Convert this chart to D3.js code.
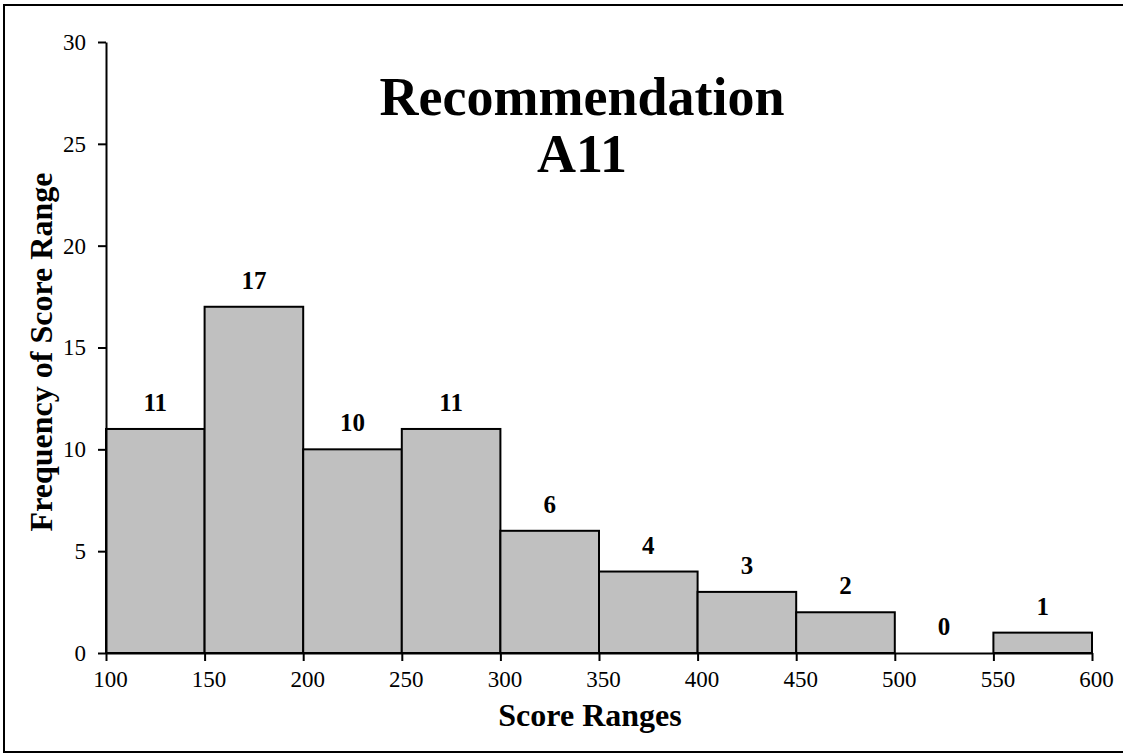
<!DOCTYPE html>
<html>
<head>
<meta charset="utf-8">
<script src="https://cdn.jsdelivr.net/npm/d3@7"></script>
<style>
  html, body { margin: 0; padding: 0; background: #fff; overflow: hidden; }
  svg { display: block; font-family: "Liberation Serif", "Times New Roman", serif; }
</style>
</head>
<body>
<svg id="chart" width="1123" height="753"></svg>
<script>
// Histogram bins (score range lower bounds) and their frequencies
const binStarts = [100, 150, 200, 250, 300, 350, 400, 450, 500, 550];
const binWidth = 50;
const frequencies = [11, 17, 10, 11, 6, 4, 3, 2, 0, 1];
const xTicks = [100, 150, 200, 250, 300, 350, 400, 450, 500, 550, 600];
const yTicks = [0, 5, 10, 15, 20, 25, 30];
const titleLines = ["Recommendation", "A11"];
const xAxisTitle = "Score Ranges";
const yAxisTitle = "Frequency of Score Range";

const svg = d3.select("#chart");

// Outer frame
svg.append("rect")
  .attr("x", 4).attr("y", 5)
  .attr("width", 1130).attr("height", 747)
  .attr("fill", "none").attr("stroke", "#000").attr("stroke-width", 2);

const plot = { left: 106, right: 1092, top: 42, bottom: 653 };

const x = d3.scaleLinear().domain([100, 600]).range([plot.left, plot.right]);
const y = d3.scaleLinear().domain([0, 30]).range([plot.bottom, plot.top]);

const bins = binStarts.map((s, i) => ({ start: s, value: frequencies[i] }));

// Bars
svg.append("g")
  .selectAll("rect")
  .data(bins.filter(d => d.value > 0))
  .join("rect")
  .attr("x", d => x(d.start))
  .attr("y", d => y(d.value))
  .attr("width", d => x(d.start + binWidth) - x(d.start))
  .attr("height", d => y(0) - y(d.value))
  .attr("fill", "#c0c0c0")
  .attr("stroke", "#000")
  .attr("stroke-width", 2);

// Value labels
svg.append("g")
  .selectAll("text")
  .data(bins)
  .join("text")
  .attr("x", d => x(d.start + binWidth / 2))
  .attr("y", d => y(d.value) - 18)
  .attr("text-anchor", "middle")
  .attr("font-size", 25)
  .attr("font-weight", "bold")
  .text(d => d.value);

// X axis
const xAxis = svg.append("g")
  .attr("transform", `translate(0,${plot.bottom})`)
  .call(d3.axisBottom(x).tickValues(xTicks).tickSize(8).tickPadding(10).tickSizeOuter(0));
xAxis.select(".domain").attr("stroke-width", 2);
xAxis.selectAll(".tick line").attr("stroke-width", 2);
xAxis.selectAll(".tick text")
  .attr("font-family", "Liberation Serif, serif")
  .attr("font-size", 23)
  .attr("dx", 4)
  .attr("fill", "#000");

// Y axis
const yAxis = svg.append("g")
  .attr("transform", `translate(${plot.left},0)`)
  .call(d3.axisLeft(y).tickValues(yTicks).tickSize(8).tickPadding(12).tickSizeOuter(0));
yAxis.select(".domain").attr("stroke-width", 2);
yAxis.selectAll(".tick line").attr("stroke-width", 2);
yAxis.selectAll(".tick text")
  .attr("font-family", "Liberation Serif, serif")
  .attr("font-size", 23)
  .attr("fill", "#000");

// Title
svg.append("g")
  .selectAll("text")
  .data(titleLines)
  .join("text")
  .attr("x", 582)
  .attr("y", (d, i) => 115 + i * 57)
  .attr("text-anchor", "middle")
  .attr("font-size", 54)
  .attr("font-weight", "bold")
  .text(d => d);

// Axis titles
svg.append("text")
  .attr("x", 590)
  .attr("y", 726)
  .attr("text-anchor", "middle")
  .attr("font-size", 32)
  .attr("font-weight", "bold")
  .text(xAxisTitle);

svg.append("text")
  .attr("transform", "translate(52,352) rotate(-90)")
  .attr("text-anchor", "middle")
  .attr("font-size", 32)
  .attr("font-weight", "bold")
  .text(yAxisTitle);
</script>
</body>
</html>
